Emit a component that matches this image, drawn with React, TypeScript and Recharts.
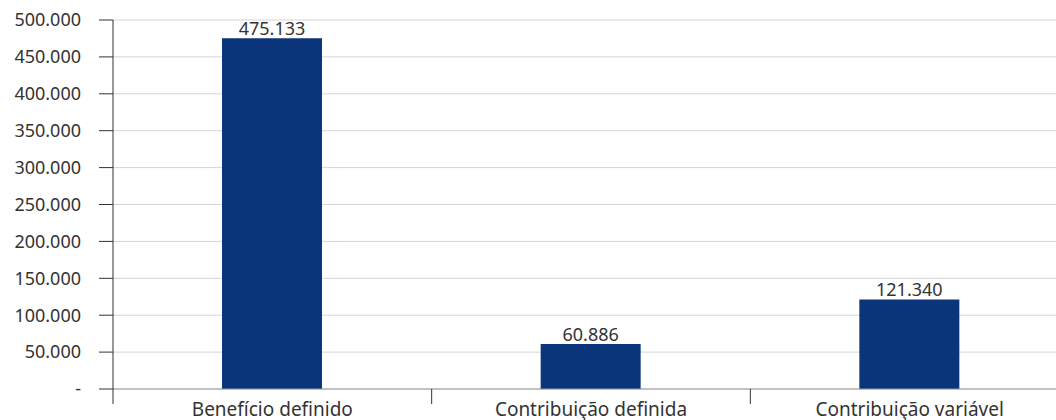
import { BarChart, Bar, XAxis, YAxis, CartesianGrid, LabelList } from 'recharts';

const categories = ['Benefício definido', 'Contribuição definida', 'Contribuição variável'];
const values = [475133, 60886, 121340];
const yTicks = [0, 50000, 100000, 150000, 200000, 250000, 300000, 350000, 400000, 450000, 500000];

const data = categories.map((name, i) => ({ name, value: values[i] }));

const FONT = '"Noto Sans", sans-serif';
const TEXT = '#333333';
const CHART_W = 1069;
const AXIS_W = 113;
const BAND = (CHART_W - AXIS_W) / categories.length;

// 500000 -> "500.000", 0 -> "-"
function formatThousands(v: number) {
  if (v === 0) return '-';
  return String(Math.round(v)).replace(/\B(?=(\d{3})+(?!\d))/g, '.');
}

function CategoryTick({ x, y, payload }: { x?: number; y?: number; payload?: { value: string } }) {
  const cx = x ?? 0;
  const cy = y ?? 0;
  const left = cx - BAND / 2;
  return (
    <g>
      <line x1={left} y1={cy} x2={left} y2={cy + 15} stroke={TEXT} strokeWidth={1} />
      <text x={cx} y={cy + 27} textAnchor="middle" fill={TEXT} fontSize={19} fontFamily={FONT}>
        {payload?.value}
      </text>
    </g>
  );
}

export default function App() {
  return (
    <div style={{ position: 'absolute', left: 0, top: 0, width: 1056, height: 420, overflow: 'hidden', background: '#fff' }}>
      <BarChart width={CHART_W} height={420} data={data} margin={{ top: 20, right: 0, left: 0, bottom: 0 }}>
        <CartesianGrid vertical={false} stroke="#d4d4d4" />
        <XAxis
          dataKey="name"
          height={31}
          axisLine={{ stroke: '#999999' }}
          tickLine={false}
          tickSize={0}
          tickMargin={0}
          interval={0}
          tick={<CategoryTick />}
        />
        <YAxis
          width={AXIS_W}
          domain={[0, 500000]}
          ticks={yTicks}
          interval={0}
          axisLine={{ stroke: TEXT }}
          tickLine={{ stroke: TEXT }}
          tickSize={14}
          tickMargin={18}
          tickFormatter={formatThousands}
          tick={{ fill: TEXT, fontSize: 18, fontFamily: FONT }}
        />
        <Bar dataKey="value" fill="#0a357a" barSize={100} isAnimationActive={false}>
          <LabelList
            dataKey="value"
            position="top"
            offset={3}
            formatter={(v: number) => formatThousands(v)}
            fill={TEXT}
            fontSize={18}
            fontFamily={FONT}
          />
        </Bar>
      </BarChart>
    </div>
  );
}
